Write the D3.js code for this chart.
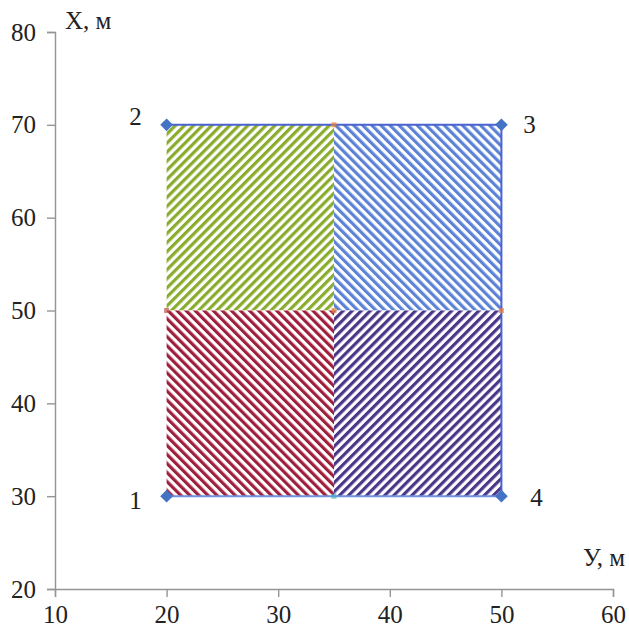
<!DOCTYPE html>
<html>
<head>
<meta charset="utf-8">
<script src="https://cdn.jsdelivr.net/npm/d3@7"></script>
<style>
  body { margin: 0; background: #ffffff; }
  text { font-family: "Liberation Serif", "DejaVu Serif", serif; fill: #222; }
</style>
</head>
<body>
<script>
// axis ticks
var xTicks = [10, 20, 30, 40, 50, 60];
var yTicks = [20, 30, 40, 50, 60, 70, 80];

// corner points of the site (У, X)
var cornerNames = ["1", "2", "3", "4"];
var cornerY = [20, 20, 50, 50];
var cornerX = [30, 70, 70, 30];

// outline goes 2 -> 3 -> 4 -> 1
var outlineOrder = [1, 2, 3];
var bottomOrder = [3, 0];

// four hatched squares
var quadY0 = [20, 35, 20, 35];
var quadY1 = [35, 50, 35, 50];
var quadX0 = [50, 50, 30, 30];
var quadX1 = [70, 70, 50, 50];
var quadColors = ["#89ac2c", "#5b82d4", "#9e1f3c", "#4a3588"];
var quadAngles = [45, -45, -45, 45];

// small mid markers
var midY = [35, 35, 20, 50, 35];
var midX = [70, 50, 50, 50, 30];
var midColors = ["#ed7d31", "#ed7d31", "#c0504d", "#ed7d31", "#4bacc6"];

var W = 629, H = 632;
var svg = d3.select("body").append("svg")
    .attr("width", W)
    .attr("height", H);

var x = d3.scaleLinear().domain([10, 60]).range([55, 613]);
var y = d3.scaleLinear().domain([20, 80]).range([589, 32]);

// hatch patterns
var defs = svg.append("defs");
quadColors.forEach(function(c, i) {
    var p = defs.append("pattern")
        .attr("id", "hatch" + i)
        .attr("patternUnits", "userSpaceOnUse")
        .attr("width", 6.4)
        .attr("height", 6.4)
        .attr("patternTransform", "rotate(" + quadAngles[i] + ")");
    p.append("rect").attr("width", 6.4).attr("height", 6.4).attr("fill", "#fff");
    p.append("rect").attr("x", 0).attr("width", 3.2).attr("height", 6.4).attr("fill", c);
});

// axes
var xAxis = svg.append("g")
    .attr("transform", "translate(0," + y(20) + ")")
    .call(d3.axisBottom(x).tickValues(xTicks).tickSize(8).tickPadding(8));
var yAxis = svg.append("g")
    .attr("transform", "translate(" + x(10) + ",0)")
    .call(d3.axisLeft(y).tickValues(yTicks).tickSize(8).tickPadding(11));

[xAxis, yAxis].forEach(function(a) {
    a.attr("font-family", "Liberation Serif, serif").attr("font-size", 25);
    a.select(".domain").attr("stroke", "#959595").attr("stroke-width", 1.4);
    a.selectAll(".tick line").attr("stroke", "#959595").attr("stroke-width", 1.4);
    a.selectAll(".tick text").attr("fill", "#222");
});

// axis titles
svg.append("text").attr("x", 65).attr("y", 29)
    .style("font-size", "25px").text("X, м");
svg.append("text").attr("x", 625).attr("y", 566)
    .attr("text-anchor", "end")
    .style("font-size", "25px").text("У, м");

// hatched squares
svg.append("g").selectAll("rect")
    .data(quadColors)
    .join("rect")
    .attr("x", function(d, i) { return x(quadY0[i]); })
    .attr("y", function(d, i) { return y(quadX1[i]); })
    .attr("width", function(d, i) { return x(quadY1[i]) - x(quadY0[i]); })
    .attr("height", function(d, i) { return y(quadX0[i]) - y(quadX1[i]); })
    .attr("fill", function(d, i) { return "url(#hatch" + i + ")"; });

// outline
var line = d3.line()
    .x(function(i) { return x(cornerY[i]); })
    .y(function(i) { return y(cornerX[i]); });
svg.append("path")
    .datum(outlineOrder)
    .attr("d", line)
    .attr("fill", "none")
    .attr("stroke", "#4a63cf")
    .attr("stroke-width", 2);
svg.append("path")
    .datum(bottomOrder)
    .attr("d", line)
    .attr("fill", "none")
    .attr("stroke", "#6f93dc")
    .attr("stroke-width", 2);

// small mid markers
svg.append("g").selectAll("rect")
    .data(midColors)
    .join("rect")
    .attr("x", function(d, i) { return x(midY[i]) - 2.5; })
    .attr("y", function(d, i) { return y(midX[i]) - 2.5; })
    .attr("width", 5)
    .attr("height", 5)
    .attr("fill", function(d) { return d; })
    .attr("opacity", 0.7);

// corner diamonds
svg.append("g").selectAll("path")
    .data(cornerNames)
    .join("path")
    .attr("transform", function(d, i) {
        return "translate(" + x(cornerY[i]) + "," + y(cornerX[i]) + ") rotate(45)";
    })
    .attr("d", "M-4.5,-4.5H4.5V4.5H-4.5Z")
    .attr("fill", "#4472c4");

// corner labels
var labDx = [-31, -31, 28, 35];
var labDy = [13, 0, 8, 10];
svg.append("g").selectAll("text")
    .data(cornerNames)
    .join("text")
    .attr("x", function(d, i) { return x(cornerY[i]) + labDx[i]; })
    .attr("y", function(d, i) { return y(cornerX[i]) + labDy[i]; })
    .attr("text-anchor", "middle")
    .style("font-size", "25px")
    .text(function(d) { return d; });
</script>
</body>
</html>
